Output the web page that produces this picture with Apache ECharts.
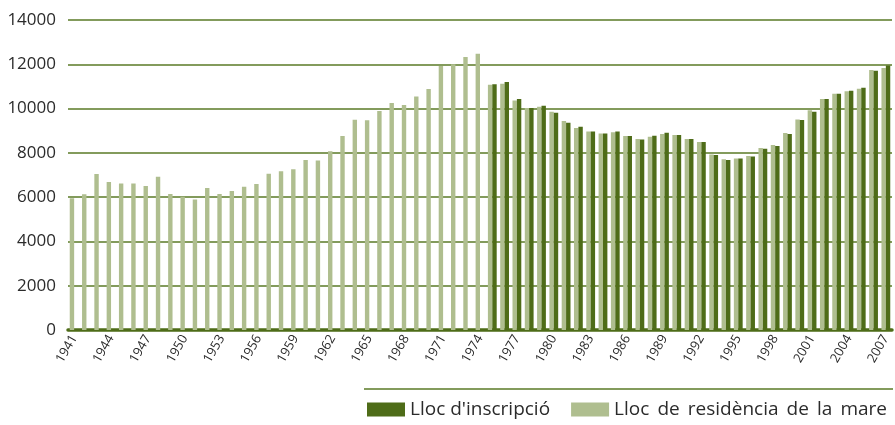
<!DOCTYPE html>
<html>
<head>
<meta charset="utf-8">
<script src="https://cdn.jsdelivr.net/npm/echarts@6/dist/echarts.min.js"></script>
<style>
  html, body { margin: 0; padding: 0; background: #fff; }
  #chart { width: 895px; height: 425px; }
</style>
</head>
<body>
<div id="chart"></div>
<script>
// anys 1941-2007
var years = ['1941', '1942', '1943', '1944', '1945', '1946', '1947', '1948', '1949', '1950',
    '1951', '1952', '1953', '1954', '1955', '1956', '1957', '1958', '1959', '1960',
    '1961', '1962', '1963', '1964', '1965', '1966', '1967', '1968', '1969', '1970',
    '1971', '1972', '1973', '1974', '1975', '1976', '1977', '1978', '1979', '1980',
    '1981', '1982', '1983', '1984', '1985', '1986', '1987', '1988', '1989', '1990',
    '1991', '1992', '1993', '1994', '1995', '1996', '1997', '1998', '1999', '2000',
    '2001', '2002', '2003', '2004', '2005', '2006', '2007']
// Lloc de residència de la mare (1941-2007)
var residenciaMare = [5950, 6130, 7050, 6680, 6620, 6620, 6500, 6920, 6140, 6020,
    5890, 6410, 6140, 6280, 6470, 6590, 7060, 7170, 7260, 7680,
    7660, 8070, 8760, 9500, 9470, 9890, 10250, 10160, 10550, 10880,
    11920, 12000, 12330, 12480, 11080, 11120, 10370, 10030, 10080, 9860,
    9440, 9120, 8960, 8870, 8930, 8760, 8630, 8730, 8850, 8810,
    8630, 8490, 7930, 7710, 7740, 7860, 8220, 8350, 8900, 9510,
    9920, 10430, 10670, 10780, 10900, 11740, 11830]
// Lloc d'inscripció (1975-2007)
var inscripcioStart = '1975'
var inscripcio = [11100, 11200, 10430, 10030, 10130, 9810,
    9360, 9180, 8960, 8870, 8960, 8760, 8600, 8770, 8910, 8810,
    8630, 8490, 7900, 7680, 7740, 7830, 8190, 8310, 8850, 9480,
    9860, 10430, 10670, 10810, 10940, 11710, 11940]
var yTicks = { min: 0, max: 14000, interval: 2000 }

var colorDark = '#4e6c18'
var colorLight = '#afbe8f'
var colorGrid = '#5a7a26'

// omplir amb buits els anys sense dada
var offset = years.indexOf(inscripcioStart)
var inscripcioFull = years.map(function(y, i) {
    return i < offset ? null : inscripcio[i - offset]
})

var chart = echarts.init(document.getElementById('chart'))
var options = {
    animation: false,
    textStyle: { fontFamily: 'Open Sans' },
    grid: { left: 68, right: 3, top: 20, bottom: 95, containLabel: false },
    legend: {
        data: ["Lloc d'inscripció", 'Lloc de residència de la mare'],
        left: 362,
        top: 395,
        itemWidth: 38,
        itemHeight: 14,
        itemGap: 21,
        icon: 'rect',
        // el text original va justificat
        formatter: function(name) {
            return name.indexOf('mare') > -1 ? name.split(' ').join(' \u2009') : name
        },
        textStyle: { fontSize: 19, color: '#2b2b2b', fontFamily: 'Open Sans' }
    },
    xAxis: {
        type: 'category',
        data: years,
        axisLine: { lineStyle: { color: colorDark, width: 3.5 } },
        axisTick: { show: false },
        axisLabel: {
            show: true,
            interval: 2,
            rotate: 60,
            hideOverlap: false,
            fontSize: 13,
            color: '#2b2b2b',
            margin: 6
        }
    },
    yAxis: {
        type: 'value',
        min: yTicks.min,
        max: yTicks.max,
        interval: yTicks.interval,
        axisLine: { show: false },
        axisTick: { show: false },
        axisLabel: {
            fontSize: 17,
            color: '#2b2b2b',
            margin: 12,
            formatter: function(v) { return String(v) }
        },
        splitLine: { lineStyle: { color: colorGrid, width: 1.5 } }
    },
    graphic: [{
        type: 'line',
        shape: { x1: 364, y1: 389, x2: 893, y2: 389 },
        style: { stroke: colorGrid, lineWidth: 1.5 }
    }],
    series: [{
        name: 'Lloc de residència de la mare',
        type: 'bar',
        data: residenciaMare,
        barWidth: 4.4,
        barGap: '0%',
        itemStyle: { color: colorLight }
    }, {
        name: "Lloc d'inscripció",
        type: 'bar',
        data: inscripcioFull,
        barWidth: 4.4,
        barGap: '0%',
        itemStyle: { color: colorDark }
    }]
}
chart.setOption(options)
</script>
</body>
</html>
